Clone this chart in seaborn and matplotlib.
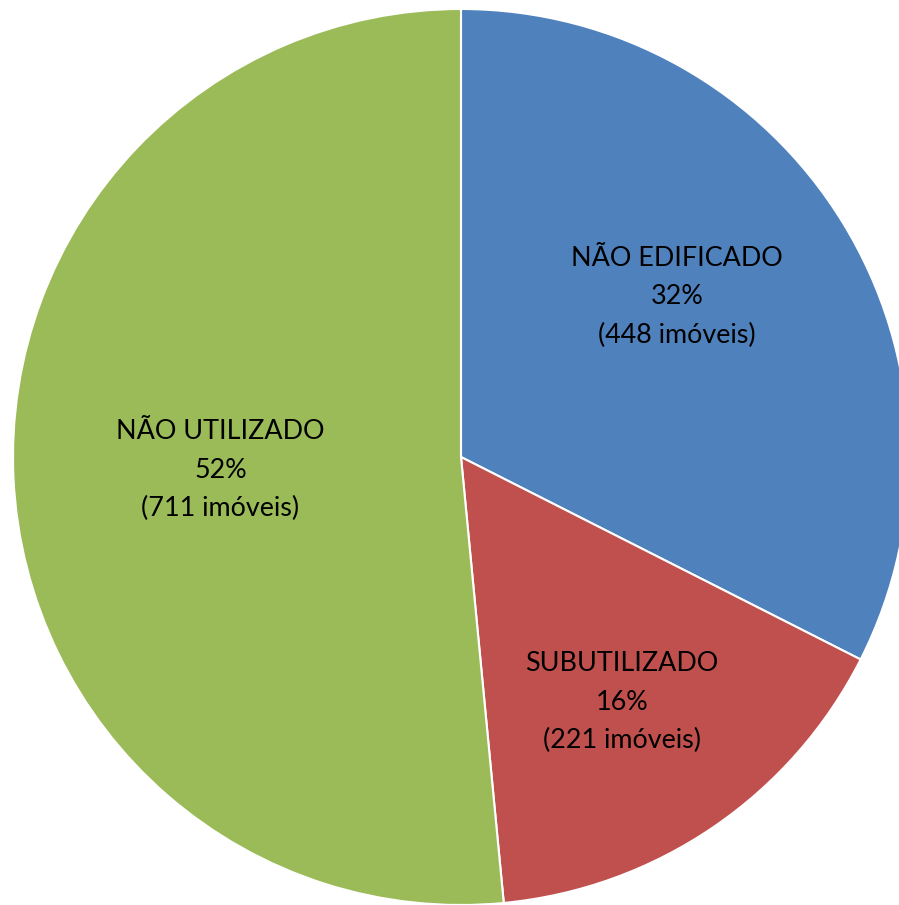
import numpy as np
import matplotlib
matplotlib.use("Agg")
import matplotlib.pyplot as plt
import seaborn as sns

categories = ["NÃO EDIFICADO", "SUBUTILIZADO", "NÃO UTILIZADO"]
counts = [448, 221, 711]
percent_labels = ["32%", "16%", "52%"]
colors = ["#4F81BD", "#C0504D", "#9BBB59"]
# label placement: distance from centre (fraction of radius) and angle nudge (deg)
label_dist = [0.60, 0.655, 0.538]
label_nudge = [5.0, -1.0, 0.4]

sns.set_theme(style="white")
plt.rcParams["font.family"] = ["Lato", "DejaVu Sans"]

W, H = 899, 905
fig = plt.figure(figsize=(W / 100, H / 100), dpi=100)
# pie centre at (461, 457) px, radius 448 px
cx, cy, r = 461, 457, 448
ax = fig.add_axes([(cx - r) / W, (H - cy - r) / H, 2 * r / W, 2 * r / H])

wedges, _ = ax.pie(counts, colors=colors, startangle=90, counterclock=False,
                   radius=1, wedgeprops=dict(edgecolor="white", linewidth=1.5))
ax.set_xlim(-1, 1)
ax.set_ylim(-1, 1)
ax.set_axis_off()

for w, cat, pct, n, d, nudge in zip(wedges, categories, percent_labels, counts,
                                    label_dist, label_nudge):
    mid = np.deg2rad((w.theta1 + w.theta2) / 2 + nudge)
    ax.text(d * np.cos(mid), d * np.sin(mid), f"{cat}\n{pct}\n({n} imóveis)",
            ha="center", va="center", fontsize=19.4, color="black", linespacing=1.68)

fig.savefig("out.png", dpi=100)
